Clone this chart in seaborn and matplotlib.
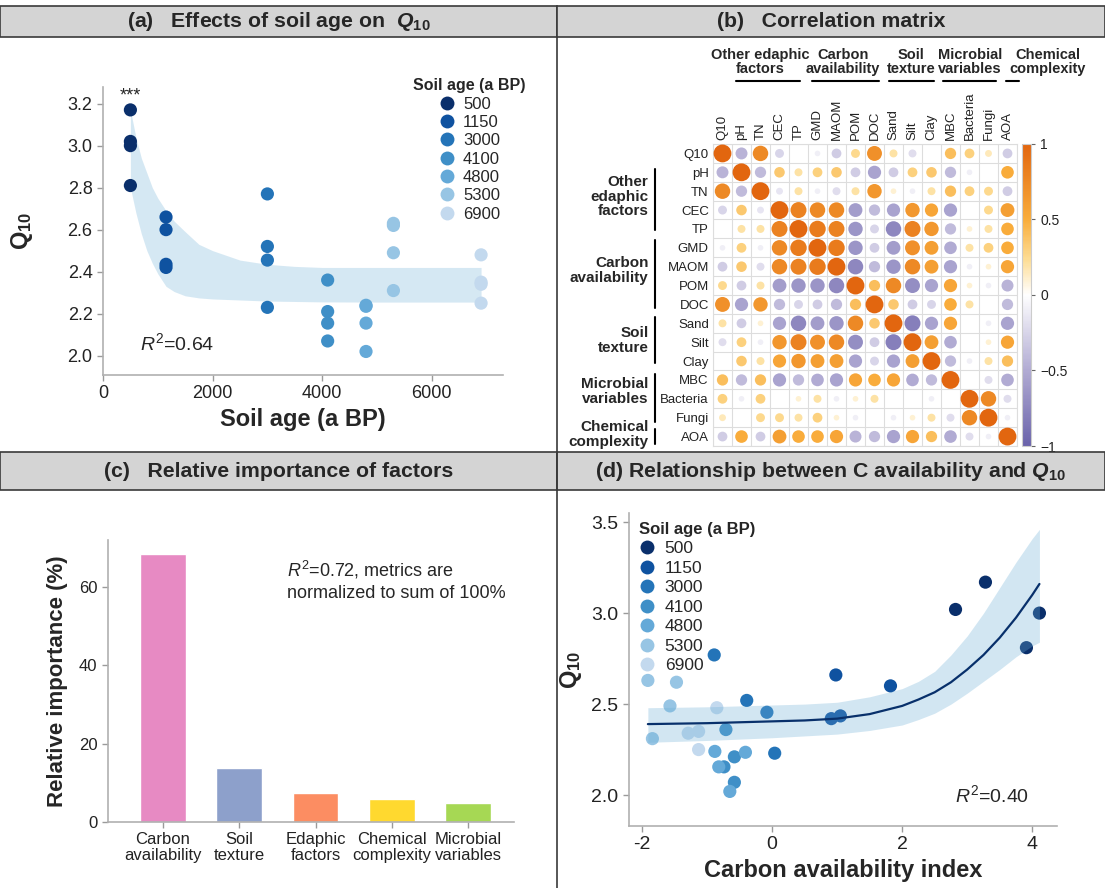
import numpy as np
import pandas as pd
import seaborn as sns
import matplotlib.pyplot as plt
from matplotlib.colors import LinearSegmentedColormap, Normalize
from matplotlib.patches import Rectangle
from matplotlib.lines import Line2D
from matplotlib import cm

# ---------------- data ----------------
age_groups = ['500', '1150', '3000', '4100', '4800', '5300', '6900']
age_colors = ['#0a2f6b', '#0f52a0', '#2474b8', '#3f8fc7', '#64a9d8', '#97c5e4', '#c3d9ee']

# one entry per soil sample (panels a and d)
sample_age = [500, 500, 500, 500, 1150, 1150, 1150, 1150, 3000, 3000, 3000, 3000,
              4100, 4100, 4100, 4100, 4800, 4800, 4800, 4800, 5300, 5300, 5300, 5300,
              6900, 6900, 6900, 6900]
sample_q10 = [3.17, 3.02, 3.00, 2.81, 2.66, 2.60, 2.435, 2.42, 2.77, 2.52, 2.455, 2.23,
              2.36, 2.21, 2.155, 2.07, 2.24, 2.235, 2.155, 2.02, 2.63, 2.62, 2.49, 2.31,
              2.48, 2.35, 2.34, 2.25]
sample_cai = [3.28, 2.82, 4.11, 3.91, 0.98, 1.82, 1.05, 0.91, -0.89, -0.39, -0.08, 0.04,
              -0.71, -0.58, -0.74, -0.58, -0.88, -0.41, -0.82, -0.65, -1.91, -1.47, -1.57, -1.84,
              -0.85, -1.13, -1.29, -1.13]

# confidence band of the decay fit in panel (a)
band_age = [500, 600, 700, 800, 900, 1000, 1150, 1300, 1500, 1750, 2000, 2500, 3000, 3500, 4000, 5000, 6000, 6900]
band_hi = [3.17, 3.04, 2.94, 2.87, 2.80, 2.75, 2.69, 2.64, 2.59, 2.53, 2.50, 2.455, 2.435, 2.425, 2.42, 2.42, 2.42, 2.42]
band_lo = [2.80, 2.68, 2.58, 2.50, 2.44, 2.39, 2.33, 2.305, 2.285, 2.275, 2.27, 2.265, 2.26, 2.258, 2.256, 2.255, 2.255, 2.255]

# fitted curve and band in panel (d)
fit_x = [-1.91, -1.0, 0.0, 0.5, 1.0, 1.5, 2.0, 2.25, 2.5, 2.75, 3.0, 3.25, 3.5, 3.75, 4.0, 4.11]
fit_y = [2.39, 2.395, 2.405, 2.41, 2.42, 2.445, 2.49, 2.525, 2.565, 2.62, 2.69, 2.77, 2.865, 2.975, 3.10, 3.16]
fit_hi = [2.48, 2.485, 2.495, 2.50, 2.51, 2.54, 2.585, 2.625, 2.68, 2.77, 2.875, 3.0, 3.14, 3.28, 3.41, 3.46]
fit_lo = [2.29, 2.30, 2.315, 2.325, 2.335, 2.355, 2.385, 2.415, 2.45, 2.50, 2.56, 2.625, 2.69, 2.76, 2.82, 2.84]

# panel (c)
factor_names = ['Carbon\navailability', 'Soil\ntexture', 'Edaphic\nfactors', 'Chemical\ncomplexity', 'Microbial\nvariables']
factor_importance = [68.5, 13.7, 7.4, 6.0, 4.9]
factor_colors = ['#e78ac3', '#8da0cb', '#fc8d62', '#ffd92f', '#a6d854']

# panel (b)
variables = ['Q10', 'pH', 'TN', 'CEC', 'TP', 'GMD', 'MAOM', 'POM', 'DOC',
             'Sand', 'Silt', 'Clay', 'MBC', 'Bacteria', 'Fungi', 'AOA']
corr_rows = [
    [1, -0.45, 0.75, -0.25, 0, -0.1, -0.3, 0.25, 0.7, 0.2, -0.2, 0, 0.4, 0.3, 0.15, -0.3],
    [-0.45, 1, -0.4, 0.35, 0.2, 0.3, 0.35, -0.3, -0.55, -0.3, 0.3, 0.35, -0.4, -0.1, 0, 0.5],
    [0.75, -0.4, 1, -0.15, 0.2, -0.1, -0.2, 0.2, 0.65, 0.1, -0.1, 0.2, 0.4, 0.3, 0.25, -0.3],
    [-0.25, 0.35, -0.15, 1, 0.8, 0.75, 0.75, -0.6, -0.4, -0.55, 0.65, 0.55, -0.55, 0, 0.25, 0.6],
    [0, 0.2, 0.2, 0.8, 1, 0.85, 0.8, -0.65, -0.25, -0.75, 0.8, 0.65, -0.4, 0.1, 0.2, 0.5],
    [-0.1, 0.3, -0.1, 0.75, 0.85, 1, 0.85, -0.65, -0.3, -0.6, 0.7, 0.6, -0.5, 0.2, 0.3, 0.5],
    [-0.3, 0.35, -0.2, 0.75, 0.8, 0.85, 1, -0.75, -0.4, -0.65, 0.75, 0.6, -0.55, -0.1, 0.1, 0.55],
    [0.25, -0.3, 0.2, -0.6, -0.65, -0.65, -0.75, 1, 0.4, 0.75, -0.7, -0.55, 0.55, 0.1, -0.1, -0.45],
    [0.7, -0.55, 0.65, -0.4, -0.25, -0.3, -0.4, 0.4, 1, 0.35, -0.3, -0.25, 0.5, 0.2, 0, -0.4],
    [0.2, -0.3, 0.1, -0.55, -0.75, -0.6, -0.65, 0.75, 0.35, 1, -0.8, -0.55, 0.55, 0, -0.1, -0.55],
    [-0.2, 0.3, -0.1, 0.65, 0.8, 0.7, 0.75, -0.7, -0.3, -0.8, 1, 0.6, -0.5, 0, 0.1, 0.55],
    [0, 0.35, 0.2, 0.55, 0.65, 0.6, 0.6, -0.55, -0.25, -0.55, 0.6, 1, -0.4, -0.1, 0.2, 0.4],
    [0.4, -0.4, 0.4, -0.55, -0.4, -0.5, -0.55, 0.55, 0.5, 0.55, -0.5, -0.4, 1, 0, -0.2, -0.5],
    [0.3, -0.1, 0.3, 0, 0.1, 0.2, -0.1, 0.1, 0.2, 0, 0, -0.1, 0, 1, 0.75, -0.2],
    [0.15, 0, 0.25, 0.25, 0.2, 0.3, 0.1, -0.1, 0, -0.1, 0.1, 0.2, -0.2, 0.75, 1, -0.1],
    [-0.3, 0.5, -0.3, 0.6, 0.5, 0.5, 0.55, -0.45, -0.4, -0.55, 0.55, 0.4, -0.5, -0.2, -0.1, 1],
]
row_groups = ['Other\nedaphic\nfactors', 'Carbon\navailability', 'Soil\ntexture', 'Microbial\nvariables', 'Chemical\ncomplexity']
col_groups = ['Other edaphic\nfactors', 'Carbon\navailability', 'Soil\ntexture', 'Microbial\nvariables', 'Chemical\ncomplexity']

# ---------------- style ----------------
sns.set_style('ticks')
plt.rcParams['font.family'] = ['Liberation Sans', 'DejaVu Sans']
plt.rcParams['mathtext.fontset'] = 'custom'
plt.rcParams['mathtext.rm'] = 'Liberation Sans'
plt.rcParams['mathtext.it'] = 'Liberation Sans:italic'
plt.rcParams['mathtext.bf'] = 'Liberation Sans:bold'
try:
    plt.rcParams['mathtext.bfit'] = 'Liberation Sans:bold:italic'
except KeyError:
    pass

W, H = 1105, 888
fig = plt.figure(figsize=(W / 100, H / 100), dpi=100)


def rect(left, top, right, bottom):
    # pixel box (from top-left) -> figure fraction
    return [left / W, 1 - bottom / H, (right - left) / W, (bottom - top) / H]


def fx(px):
    return px / W


def fy(py):
    return 1 - py / H


def header(x0, y0, x1, y1, text):
    fig.patches.append(Rectangle((fx(x0), fy(y1)), (x1 - x0) / W, (y1 - y0) / H,
                                 transform=fig.transFigure, facecolor='#d4d4d4',
                                 edgecolor='#3a3a3a', lw=1.2, zorder=0))
    fig.text(fx((x0 + x1) / 2), fy((y0 + y1) / 2), text, ha='center', va='center',
             fontsize=15.3, fontweight='bold')


def style_axes(ax, size):
    sns.despine(ax=ax)
    for s in ['left', 'bottom']:
        ax.spines[s].set_color('#b0b0b0')
        ax.spines[s].set_linewidth(1.2)
    ax.tick_params(colors='#9a9a9a', labelcolor='#222222', labelsize=size, length=4, width=1)


header(0, 6, 557, 37, r'(a)   Effects of soil age on  $\mathbfit{Q}_{\mathbf{10}}$')
header(557, 6, 1105, 37, '(b)   Correlation matrix')
header(0, 452, 557, 490, '(c)   Relative importance of factors')
header(557, 452, 1105, 490, r'(d) Relationship between C availability and $\mathbfit{Q}_{\mathbf{10}}$')
fig.add_artist(Line2D([fx(557), fx(557)], [fy(37), 0], transform=fig.transFigure, color='#3a3a3a', lw=1.2))

df = pd.DataFrame({'age': sample_age, 'q10': sample_q10, 'cai': sample_cai,
                   'group': [str(a) for a in sample_age]})
pal = dict(zip(age_groups, age_colors))
leg_handles = [Line2D([], [], marker='o', ls='', markersize=10, markerfacecolor=c,
                      markeredgecolor='none') for c in age_colors]

# ---------------- (a) ----------------
ax_a = fig.add_axes(rect(103, 87, 503, 375))
ax_a.fill_between(band_age, band_lo, band_hi, color='#6baed6', alpha=0.28, lw=0, zorder=1)
sns.scatterplot(data=df, x='age', y='q10', hue='group', hue_order=age_groups, palette=pal,
                s=90, edgecolor='none', legend=False, ax=ax_a, zorder=3)
ax_a.set_xlim(0, 7300)
ax_a.set_ylim(1.908, 3.279)
ax_a.set_xticks([0, 2000, 4000, 6000])
ax_a.set_yticks([2.0, 2.2, 2.4, 2.6, 2.8, 3.0, 3.2])
ax_a.set_yticklabels([f'{v:.1f}' for v in [2.0, 2.2, 2.4, 2.6, 2.8, 3.0, 3.2]])
style_axes(ax_a, 13)
ax_a.set_xlabel('Soil age (a BP)', fontsize=17, fontweight='bold', labelpad=4)
ax_a.set_ylabel(r'$\mathbf{Q}_{\mathbf{10}}$', fontsize=17)
ax_a.yaxis.set_label_coords(-0.17, 0.5)
ax_a.text(500, 3.235, '***', ha='center', va='center', fontsize=13)
ax_a.text(680, 2.06, r'$\mathit{R}^{2}$=0.64', ha='left', va='center', fontsize=14)
ax_a.legend(leg_handles, age_groups, title='Soil age (a BP)', loc='upper left',
            bbox_to_anchor=(fx(405), fy(70)), bbox_transform=fig.transFigure,
            frameon=False, fontsize=12, title_fontproperties={'weight': 'bold', 'size': 11.5},
            handlelength=1.0, handletextpad=0.45, labelspacing=0.2, borderpad=0)

# ---------------- (b) ----------------
R = np.array(corr_rows, dtype=float)
R = (R + R.T) / 2
n = len(variables)
ii, jj = np.meshgrid(np.arange(n), np.arange(n), indexing='ij')
df_m = pd.DataFrame({'row': ii.ravel(), 'col': jj.ravel(), 'r': R.ravel()})
df_m['absr'] = df_m['r'].abs()

corr_cmap = LinearSegmentedColormap.from_list(
    'corr', [(0.0, '#6a63ab'), (0.25, '#b1abd3'), (0.5, '#ffffff'),
             (0.62, '#fddc93'), (0.75, '#f9ad3c'), (1.0, '#e2660f')])

ax_m = fig.add_axes(rect(713, 144, 1017, 446))
for k in np.arange(-0.5, n, 1.0):
    ax_m.axhline(k, color='#dddddd', lw=0.8, zorder=0)
    ax_m.axvline(k, color='#dddddd', lw=0.8, zorder=0)
sns.scatterplot(data=df_m, x='col', y='row', hue='r', palette=corr_cmap, hue_norm=(-1, 1),
                size='absr', sizes=(0, 165), size_norm=(0, 1), edgecolor='none',
                legend=False, ax=ax_m, zorder=3)
ax_m.set_xlim(-0.5, n - 0.5)
ax_m.set_ylim(n - 0.5, -0.5)
ax_m.set_xlabel('')
ax_m.set_ylabel('')
ax_m.set_xticks(range(n))
ax_m.set_xticklabels(variables, rotation=90)
ax_m.set_yticks(range(n))
ax_m.set_yticklabels(variables)
ax_m.tick_params(axis='x', top=True, labeltop=True, bottom=False, labelbottom=False)
ax_m.tick_params(length=0, pad=3, labelsize=9.5, labelcolor='#222222')
for s in ax_m.spines.values():
    s.set_color('#dddddd')

# row groups: label centre row, bracket start/end rows
row_label_y = [2.3, 6.2, 9.9, 12.6, 14.9]
row_line_span = [(0.8, 4.05), (4.6, 8.2), (8.65, 11.1), (11.7, 14.25), (14.6, 15.4)]
for lab, yc, (y0, y1) in zip(row_groups, row_label_y, row_line_span):
    ax_m.text(-3.9, yc, lab, ha='right', va='center', fontsize=11, fontweight='bold',
              linespacing=1.05, clip_on=False)
    ax_m.plot([-3.55, -3.55], [y0, y1], color='black', lw=1.5, clip_on=False)

col_label_x = [1.97, 6.34, 9.92, 13.03, 17.1]
col_line_span = [(0.7, 4.1), (4.7, 8.25), (8.75, 11.15), (11.6, 14.4), (14.9, 15.6)]
for lab, xc, (x0, x1) in zip(col_groups, col_label_x, col_line_span):
    ax_m.text(xc, -4.85, lab, ha='center', va='center', fontsize=10.5, fontweight='bold',
              linespacing=1.0, clip_on=False)
    ax_m.plot([x0, x1], [-3.85, -3.85], color='black', lw=1.5, clip_on=False)

cax = fig.add_axes(rect(1022, 144, 1031, 446))
cb = fig.colorbar(cm.ScalarMappable(norm=Normalize(-1, 1), cmap=corr_cmap), cax=cax)
cb.set_ticks([-1, -0.5, 0, 0.5, 1])
cb.set_ticklabels(['\u22121', '\u22120.5', '0', '0.5', '1'])
cb.ax.tick_params(labelsize=10, length=3, color='#666666', labelcolor='#222222')
cb.outline.set_edgecolor('#cccccc')

# ---------------- (c) ----------------
ax_c = fig.add_axes(rect(108, 540, 514, 822))
sns.barplot(x=factor_names, y=factor_importance, hue=factor_names, palette=factor_colors,
            saturation=1, legend=False, width=0.6, ax=ax_c)
ax_c.set_xlim(-0.72, 4.6)
ax_c.set_ylim(0, 72)
ax_c.set_yticks([0, 20, 40, 60])
style_axes(ax_c, 12)
ax_c.tick_params(axis='x', labelsize=12)
for t in ax_c.get_xticklabels():
    t.set_linespacing(1.05)
ax_c.set_ylabel('Relative importance (%)', fontsize=16, fontweight='bold', labelpad=8)
fig.text(fx(287), fy(580), '$\\mathit{R}^{2}$=0.72, metrics are\nnormalized to sum of 100%',
         ha='left', va='center', fontsize=13, linespacing=1.3)

# ---------------- (d) ----------------
ax_d = fig.add_axes(rect(629, 513, 1057, 826))
sns.scatterplot(data=df, x='cai', y='q10', hue='group', hue_order=age_groups, palette=pal,
                s=90, edgecolor='none', legend=False, ax=ax_d, zorder=2)
ax_d.fill_between(fit_x, fit_lo, fit_hi, color='#6baed6', alpha=0.3, lw=0, zorder=3)
sns.lineplot(x=fit_x, y=fit_y, color='#08306b', lw=1.6, ax=ax_d, zorder=4)
ax_d.set_xlim(-2.2, 4.38)
ax_d.set_ylim(1.83, 3.55)
ax_d.set_xticks([-2, 0, 2, 4])
ax_d.set_xticklabels(['-2', '0', '2', '4'])
ax_d.set_yticks([2.0, 2.5, 3.0, 3.5])
ax_d.set_yticklabels(['2.0', '2.5', '3.0', '3.5'])
style_axes(ax_d, 14)
ax_d.set_xlabel('Carbon availability index', fontsize=17, fontweight='bold', labelpad=4)
ax_d.set_ylabel(r'$\mathbf{Q}_{\mathbf{10}}$', fontsize=17)
ax_d.yaxis.set_label_coords(-0.105, 0.5)
ax_d.text(3.95, 2.0, r'$\mathit{R}^{2}$=0.40', ha='right', va='center', fontsize=14)
ax_d.legend(leg_handles, age_groups, title='Soil age (a BP)', loc='upper left',
            bbox_to_anchor=(fx(630), fy(513)), bbox_transform=fig.transFigure,
            frameon=False, fontsize=12.5, title_fontproperties={'weight': 'bold', 'size': 12},
            handlelength=1.0, handletextpad=0.5, labelspacing=0.25, borderpad=0,
            alignment='left')

fig.savefig('out.png', dpi=100)
